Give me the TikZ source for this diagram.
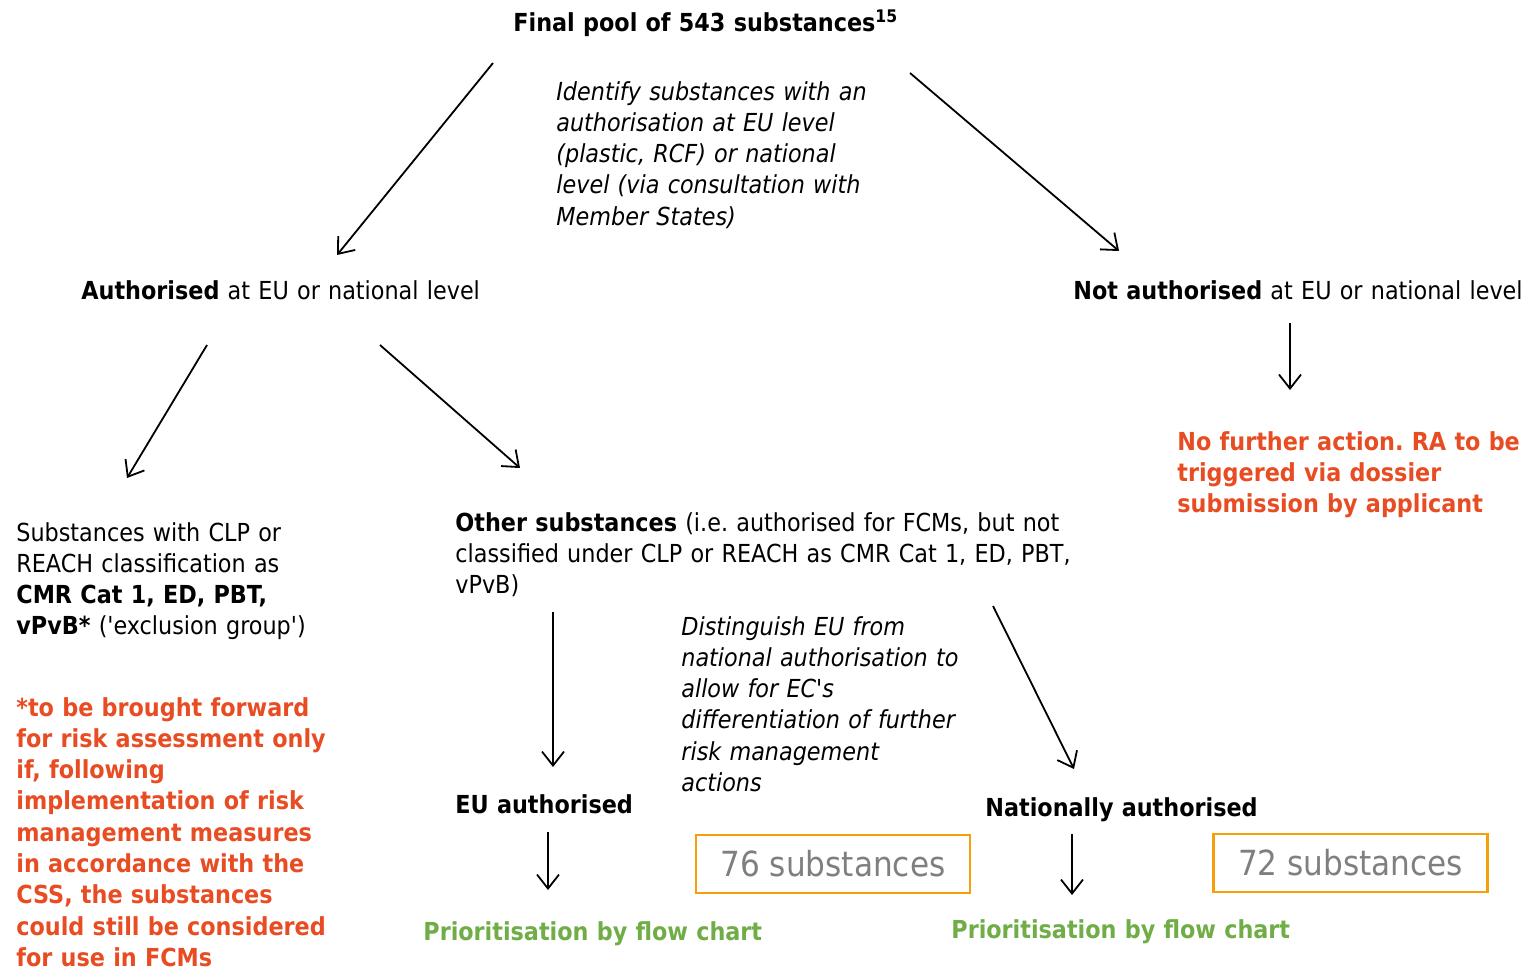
\documentclass[tikz,border=0pt]{standalone}
\usepackage{fontspec}
\setmainfont{DejaVu Sans Condensed}
\usetikzlibrary{arrows.meta}
\definecolor{redtxt}{HTML}{E84C22}
\definecolor{greentxt}{HTML}{70AD47}
\definecolor{boxorange}{HTML}{F5A00A}
\definecolor{graytxt}{HTML}{7F7F7F}
\frenchspacing
\begin{document}
\begin{tikzpicture}[x=0.5pt,y=-0.5pt,
  txt/.style={anchor=base west, inner sep=0pt, align=left, text width=#1,
    font=\fontsize{12.4}{15.65}\selectfont},
  txt/.default=400pt,
  arr/.style={-{Straight Barb[length=7pt,width=11pt]}, line width=0.9pt},
  cntbox/.style={draw=boxorange, line width=1.1pt, minimum width=137pt, minimum height=29pt,
    inner sep=0pt, text=graytxt, font=\fontsize{17.3}{20}\selectfont},
  redbold/.style={text=redtxt, font=\fontsize{12.4}{15.65}\selectfont\bfseries},
  greenbold/.style={text=greentxt, font=\fontsize{12.4}{15.65}\selectfont\bfseries}]
\useasboundingbox (0,0) rectangle (1524,970);

% texts
\node[txt] (title) at (513,31) {\textbf{Final pool of 543 substances\textsuperscript{15}}};
\node[txt=200pt, font=\fontsize{12.4}{15.65}\selectfont\itshape] (ident) at (556,100)
  {Identify substances with an\\authorisation at EU level\\(plastic, RCF) or national\\level (via consultation with\\Member States)};
\node[txt] (auth) at (81,299) {\textbf{Authorised} at EU or national level};
\node[txt] (notauth) at (1073,299) {\textbf{Not authorised} at EU or national level};
\node[txt=200pt, redbold] (nofurther) at (1177,450)
  {No further action. RA to be\\triggered via dossier\\submission by applicant};
\node[txt=200pt] (subst) at (16,541)
  {Substances with CLP or\\REACH classification as\\\textbf{CMR Cat 1, ED, PBT,}\\\textbf{vPvB*} (\textquotesingle exclusion group\textquotesingle)};
\node[txt=200pt, redbold] (redleft) at (16,716)
  {*to be brought forward\\for risk assessment only\\if, following\\implementation of risk\\management measures\\in accordance with the\\CSS, the substances\\could still be considered\\for use in FCMs};
\node[txt] (other) at (455,531)
  {\textbf{Other substances} (i.e. authorised for FCMs, but not\\classified under CLP or REACH as CMR Cat 1, ED, PBT,\\vPvB)};
\node[txt=200pt, font=\fontsize{12.4}{15.65}\selectfont\itshape] (disting) at (681,635)
  {Distinguish EU from\\national authorisation to\\allow for EC\textquotesingle s\\differentiation of further\\risk management\\actions};
\node[txt] (euauth) at (455,813) {\textbf{EU authorised}};
\node[txt] (natauth) at (985,816) {\textbf{Nationally authorised}};
\node[cntbox] (box76) at (833,864) {76 substances};
\node[cntbox] (box72) at (1350.5,863) {72 substances};
\node[txt, greenbold] (prio1) at (423,940) {Prioritisation by flow chart};
\node[txt, greenbold] (prio2) at (951,938) {Prioritisation by flow chart};

% arrow end points
\coordinate (a1s) at (493,63);   \coordinate (a1e) at (337,255);
\coordinate (a2s) at (910,73);   \coordinate (a2e) at (1119,251);
\coordinate (a3s) at (207,345);  \coordinate (a3e) at (127,478);
\coordinate (a4s) at (380,345);  \coordinate (a4e) at (520,468);
\coordinate (a5s) at (1290,323); \coordinate (a5e) at (1290,390);
\coordinate (a6s) at (553,612);  \coordinate (a6e) at (553,767);
\coordinate (a7s) at (993,606);  \coordinate (a7e) at (1074,769);
\coordinate (a8s) at (548,832);  \coordinate (a8e) at (548,890);
\coordinate (a9s) at (1072,834); \coordinate (a9e) at (1072,895);

\draw[arr] (a1s) -- (a1e);
\draw[arr] (a2s) -- (a2e);
\draw[arr] (a3s) -- (a3e);
\draw[arr] (a4s) -- (a4e);
\draw[arr] (a5s) -- (a5e);
\draw[arr] (a6s) -- (a6e);
\draw[arr] (a7s) -- (a7e);
\draw[arr] (a8s) -- (a8e);
\draw[arr] (a9s) -- (a9e);
\end{tikzpicture}
\end{document}
